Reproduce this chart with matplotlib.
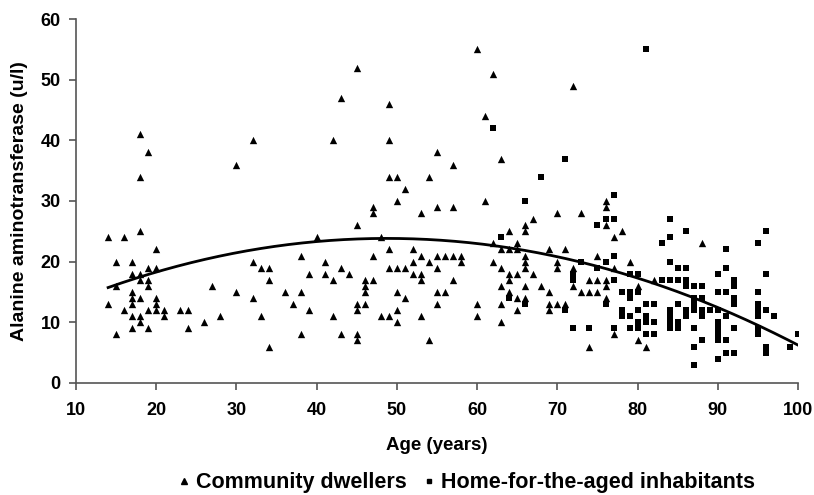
import numpy as np
import matplotlib
matplotlib.use("Agg")
import matplotlib.pyplot as plt
from matplotlib.lines import Line2D

plt.rcParams['font.family'] = ['Liberation Sans', 'DejaVu Sans']
plt.rcParams['font.weight'] = 'bold'

# Community dwellers (age, ALT)
community = [
    (14,24),(14,13),(15,20),(15,16),(15,8),(16,24),(16,12),
    (17,20),(17,18),(17,15),(17,14),(17,13),(17,11),(17,9),
    (18,41),(18,34),(18,25),(18,18),(18,17),(18,14),(18,11),(18,10),
    (19,38),(19,19),(19,17),(19,16),(19,12),(19,9),
    (20,22),(20,19),(20,14),(20,13),(20,12),
    (21,12),(21,11),(23,12),(24,12),(24,9),(26,10),(27,16),(28,11),
    (30,36),(30,15),(32,40),(32,20),(32,14),(33,19),(33,11),(34,19),(34,17),(34,6),
    (36,15),(37,13),(38,21),(38,15),(38,8),(39,18),(39,12),
    (40,24),(41,20),(41,18),(42,40),(42,17),(42,11),(43,47),(43,19),(43,8),(44,18),
    (45,52),(45,26),(45,13),(45,12),(45,8),(45,7),
    (46,17),(46,16),(46,15),(46,13),(47,29),(47,28),(47,21),(47,17),
    (48,24),(48,11),(49,46),(49,40),(49,34),(49,22),(49,19),(49,11),
    (50,34),(50,30),(50,19),(50,15),(50,12),(50,10),
    (51,32),(51,19),(51,14),(52,22),(52,20),(52,18),
    (53,28),(53,21),(53,18),(53,17),(53,11),(54,34),(54,20),(54,7),
    (55,38),(55,29),(55,21),(55,19),(55,15),(55,13),(56,21),(56,15),
    (57,36),(57,29),(57,21),(57,17),(58,21),(58,20),
    (60,55),(60,13),(60,11),(61,44),(61,30),(62,51),(62,23),(62,20),
    (63,37),(63,22),(63,19),(63,16),(63,13),(63,10),
    (64,25),(64,22),(64,18),(64,17),(64,15),
    (65,23),(65,22),(65,18),(65,14),(65,12),
    (66,26),(66,25),(66,21),(66,20),(66,19),(66,16),(66,14),
    (67,27),(67,18),(68,16),(69,22),(69,15),(69,13),(69,12),
    (70,28),(70,20),(70,19),(70,13),(71,22),(71,13),
    (72,49),(72,19),(72,16),(73,28),(73,15),(74,17),(74,15),(74,6),
    (75,21),(75,17),(75,15),(76,30),(76,29),(76,26),(76,17),(76,16),(76,14),
    (77,24),(77,19),(77,8),(78,25),(79,20),(80,16),(80,7),(81,6),(82,17),(88,23),
]

# Home-for-the-aged inhabitants (age, ALT)
home = [
    (62,42),(63,24),(64,14),(66,30),(66,13),(68,34),(71,37),(71,12),
    (72,18),(72,17),(72,9),(73,20),(74,9),(75,26),(75,19),
    (76,27),(76,20),(76,13),(77,31),(77,27),(77,21),(77,17),(77,9),
    (78,15),(78,12),(78,11),(79,18),(79,15),(79,14),(79,11),(79,9),
    (80,18),(80,15),(80,12),(80,10),(80,9),
    (81,55),(81,13),(81,11),(81,10),(81,8),
    (82,13),(82,10),(82,8),(83,23),(83,17),
    (84,27),(84,24),(84,20),(84,17),(84,12),(84,11),(84,10),(84,9),
    (85,19),(85,17),(85,13),(85,10),(85,9),
    (86,25),(86,19),(86,17),(86,16),(86,12),(86,11),
    (87,16),(87,14),(87,13),(87,12),(87,9),(87,6),(87,3),
    (88,16),(88,14),(88,12),(88,11),(88,7),(89,12),
    (90,18),(90,15),(90,12),(90,10),(90,9),(90,8),(90,7),(90,4),
    (91,22),(91,19),(91,15),(91,11),(91,7),(91,5),
    (92,17),(92,16),(92,14),(92,13),(92,9),(92,5),
    (95,23),(95,15),(95,13),(95,12),(95,11),(95,9),(95,8),
    (96,25),(96,18),(96,12),(96,6),(96,5),
    (97,11),(99,6),(100,8),
]

# Trend line
trend_age = [14, 20, 30, 50, 60, 70, 80, 90, 100]
trend_alt = [15.9, 18.0, 21.6, 23.5, 23.3, 20.8, 17.5, 12.0, 6.4]

x_ticks = [10, 20, 30, 40, 50, 60, 70, 80, 90, 100]
y_ticks = [0, 10, 20, 30, 40, 50, 60]

c_age = np.array([p[0] for p in community], float)
c_alt = np.array([p[1] for p in community], float)
h_age = np.array([p[0] for p in home], float)
h_alt = np.array([p[1] for p in home], float)

fig = plt.figure(figsize=(8.14, 4.95), dpi=100)
ax = fig.add_axes([0.0934, 0.2265, 0.887, 0.735])

ax.scatter(c_age, c_alt, marker='^', s=28, c='black', linewidths=0, zorder=3)
ax.scatter(h_age, h_alt, marker='s', s=24, c='black', linewidths=0, zorder=3)

coef = np.polyfit(trend_age, trend_alt, 2)
xs = np.linspace(min(trend_age), max(trend_age), 200)
ax.plot(xs, np.polyval(coef, xs), color='black', lw=2, zorder=4)

ax.set_xlim(10, 100)
ax.set_ylim(0, 60)
ax.set_xticks(x_ticks)
ax.set_yticks(y_ticks)
ax.spines['top'].set_visible(False)
ax.spines['right'].set_visible(False)
for s in ['left', 'bottom']:
    ax.spines[s].set_color('#555555')
    ax.spines[s].set_linewidth(1.2)
ax.tick_params(axis='both', direction='out', length=5, width=1.2, color='#555555',
               labelsize=13, pad=6)
ax.tick_params(axis='x', pad=9)
for lab in ax.get_xticklabels() + ax.get_yticklabels():
    lab.set_fontweight('bold')
ax.set_xlabel('Age (years)', fontsize=13.5, fontweight='bold', labelpad=13)
ax.set_ylabel('Alanine aminotransferase (u/l)', fontsize=14, fontweight='bold', labelpad=9)

handles = [Line2D([], [], marker='^', color='black', ls='none', markersize=4),
           Line2D([], [], marker='s', color='black', ls='none', markersize=3.5)]
fig.legend(handles, ['Community dwellers', 'Home-for-the-aged inhabitants'],
           loc='center', bbox_to_anchor=(0.5725, 0.025), ncol=2, frameon=False,
           prop={'size': 15.5, 'weight': 'bold'}, handletextpad=0.2,
           columnspacing=0.7, handlelength=0.7)

fig.savefig('out.png', dpi=100)
